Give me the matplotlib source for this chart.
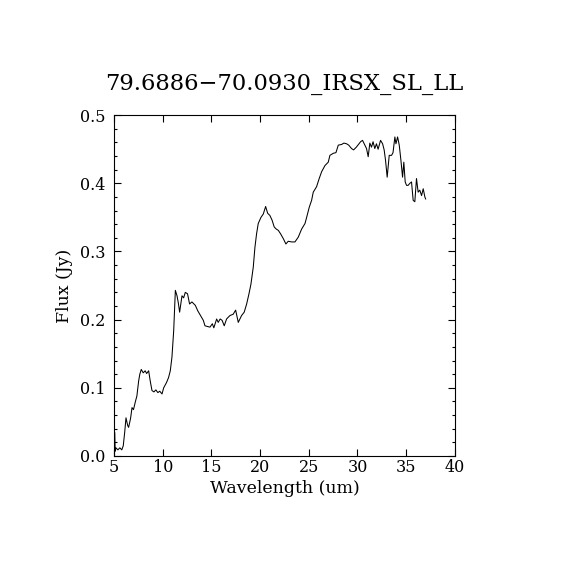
import matplotlib
matplotlib.use("Agg")
import matplotlib.pyplot as plt
from matplotlib.ticker import MultipleLocator

title = "79.6886\u221270.0930_IRSX_SL_LL"
xlabel = "Wavelength (um)"
ylabel = "Flux (Jy)"

wavelength = [5.08, 5.12, 5.2, 5.4, 5.6, 5.8, 5.95, 6.1, 6.23, 6.4, 6.5, 6.7, 6.85, 7.0,
              7.2, 7.35, 7.53, 7.65, 7.8, 8.0, 8.2, 8.35, 8.56, 8.72, 8.9, 9.1, 9.3, 9.5,
              9.7, 9.93, 10.1, 10.4, 10.6, 10.78, 10.95, 11.13, 11.3, 11.47, 11.6, 11.74,
              11.98, 12.15, 12.32, 12.55, 12.76, 13.0, 13.35, 13.6, 13.96, 14.17, 14.34,
              14.6, 14.85, 15.1, 15.25, 15.54, 15.7, 15.9, 16.1, 16.32, 16.56, 16.9, 17.24,
              17.49, 17.76, 18.1, 18.37, 18.62, 18.86, 19.06, 19.3, 19.47, 19.64, 19.81,
              20.09, 20.33, 20.57, 20.78, 21.0, 21.23, 21.45, 21.65, 21.87, 22.1, 22.38,
              22.65, 22.89, 23.24, 23.58, 23.92, 24.27, 24.61, 24.78, 25.05, 25.29, 25.46,
              25.8, 26.07, 26.32, 26.66, 27.0, 27.17, 27.51, 27.79, 28.03, 28.37, 28.61,
              28.88, 29.1, 29.39, 29.6, 29.88, 30.05, 30.32, 30.52, 30.76, 30.93, 31.1,
              31.27, 31.44, 31.6, 31.78, 31.95, 32.12, 32.37, 32.58, 32.74, 32.88, 33.05,
              33.26, 33.5, 33.65, 33.84, 33.95, 34.12, 34.29, 34.46, 34.63, 34.76, 34.9,
              35.04, 35.2, 35.38, 35.55, 35.72, 35.89, 36.06, 36.23, 36.4, 36.58, 36.75,
              36.92, 37.0]
flux = [0.034, 0.007, 0.012, 0.009, 0.012, 0.009, 0.015, 0.035, 0.056, 0.045, 0.042, 0.055,
        0.071, 0.068, 0.080, 0.088, 0.110, 0.120, 0.127, 0.122, 0.125, 0.121, 0.125, 0.110,
        0.096, 0.094, 0.097, 0.093, 0.095, 0.091, 0.100, 0.108, 0.115, 0.125, 0.145, 0.184,
        0.243, 0.235, 0.225, 0.211, 0.235, 0.232, 0.240, 0.238, 0.223, 0.226, 0.221, 0.213,
        0.204, 0.199, 0.191, 0.190, 0.189, 0.194, 0.188, 0.201, 0.196, 0.201, 0.199, 0.191,
        0.201, 0.206, 0.208, 0.214, 0.196, 0.206, 0.211, 0.223, 0.238, 0.252, 0.277, 0.306,
        0.326, 0.341, 0.350, 0.355, 0.366, 0.356, 0.353, 0.346, 0.336, 0.333, 0.331, 0.326,
        0.319, 0.311, 0.315, 0.314, 0.314, 0.321, 0.333, 0.341, 0.350, 0.365, 0.375, 0.387,
        0.395, 0.407, 0.417, 0.426, 0.431, 0.441, 0.444, 0.445, 0.456, 0.457, 0.459, 0.458,
        0.456, 0.451, 0.449, 0.453, 0.456, 0.461, 0.463, 0.456, 0.451, 0.439, 0.459, 0.453,
        0.461, 0.451, 0.458, 0.450, 0.463, 0.458, 0.449, 0.434, 0.409, 0.441, 0.441, 0.445,
        0.468, 0.458, 0.468, 0.456, 0.434, 0.409, 0.431, 0.402, 0.397, 0.397, 0.400, 0.402,
        0.375, 0.373, 0.407, 0.387, 0.390, 0.382, 0.392, 0.380, 0.377]

plt.rcParams['font.family'] = ['DejaVu Serif']

fig = plt.figure(figsize=(5.7, 5.7), dpi=100)
ax = fig.add_axes([0.2, 0.2, 0.598, 0.598])
ax.plot(wavelength, flux, color='black', linewidth=0.75)
ax.set_xlim(5, 40)
ax.set_ylim(0, 0.5)
ax.xaxis.set_major_locator(MultipleLocator(5))
ax.yaxis.set_major_locator(MultipleLocator(0.1))
ax.yaxis.set_minor_locator(MultipleLocator(0.02))
ax.yaxis.set_major_formatter(matplotlib.ticker.FormatStrFormatter('%.1f'))
ax.tick_params(which='both', direction='in', top=True, right=True, labelsize=11.5, width=0.8)
ax.tick_params(which='major', length=5)
ax.tick_params(which='minor', length=2.5)
ax.tick_params(axis='x', pad=2)
ax.tick_params(axis='y', pad=6)
for s in ax.spines.values():
    s.set_linewidth(0.8)
ax.set_xlabel(xlabel, fontsize=12.5, labelpad=3)
ax.set_ylabel(ylabel, fontsize=12.5, labelpad=5)
ax.set_title(title, fontsize=16.3, pad=18)
fig.savefig("out.png", dpi=100)
